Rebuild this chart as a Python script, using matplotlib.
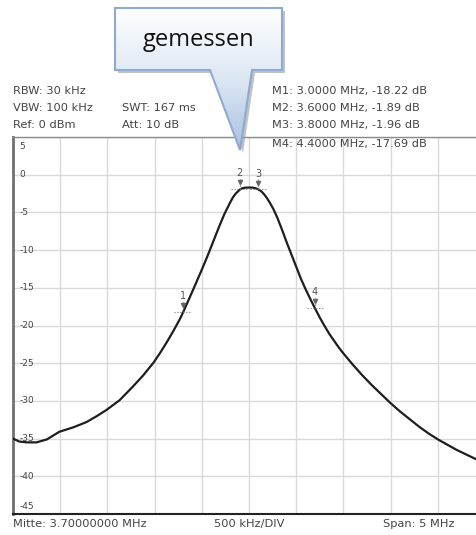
import matplotlib
matplotlib.use("Agg")
import matplotlib.pyplot as plt
import numpy as np
from matplotlib.patches import Polygon

# trace (MHz, dB)
freq = [1.20, 1.27, 1.35, 1.45, 1.56, 1.69, 1.84, 1.98, 2.09, 2.19, 2.33, 2.47,
        2.58, 2.69, 2.76, 2.83, 2.90, 2.97, 3.00, 3.05, 3.11, 3.20, 3.26, 3.32,
        3.38, 3.44, 3.50, 3.53, 3.56, 3.60, 3.63, 3.66, 3.70, 3.74, 3.77, 3.80,
        3.83, 3.86, 3.89, 3.92, 3.96, 4.00, 4.05, 4.10, 4.15, 4.20, 4.25, 4.30,
        4.35, 4.40, 4.45, 4.50, 4.55, 4.60, 4.65, 4.70, 4.80, 4.90, 5.00, 5.10,
        5.20, 5.30, 5.40, 5.50, 5.60, 5.70, 5.80, 5.90, 6.00, 6.10, 6.20]
level = [-35.0, -35.4, -35.5, -35.5, -35.1, -34.1, -33.5, -32.8, -32.0, -31.2,
         -29.9, -28.1, -26.6, -24.9, -23.6, -22.2, -20.7, -19.1, -18.3, -16.9,
         -15.2, -12.6, -10.8, -8.9, -7.0, -5.2, -3.7, -3.0, -2.5, -2.0,
         -1.8, -1.72, -1.7, -1.72, -1.8, -1.96, -2.2, -2.6, -3.1, -3.7,
         -4.6, -5.7, -7.3, -9.0, -10.6, -12.2, -13.8, -15.2, -16.5, -17.75,
         -18.95, -20.05, -21.1, -22.0, -22.9, -23.7, -25.2, -26.6, -27.9, -29.1,
         -30.3, -31.4, -32.4, -33.4, -34.3, -35.1, -35.8, -36.5, -37.1, -37.7,
         -38.3]

marker_freq = [3.0, 3.6, 3.8, 4.4]
marker_level = [-18.22, -1.89, -1.96, -17.69]
marker_names = ["1", "2", "3", "4"]

y_ticks = [5, 0, -5, -10, -15, -20, -25, -30, -35, -40, -45]
x_grid = [1.2 + 0.5 * i for i in range(11)]

header_left = ["RBW: 30 kHz", "VBW: 100 kHz", "Ref: 0 dBm"]
header_mid = ["SWT: 167 ms", "Att: 10 dB"]
header_right = ["M1: 3.0000 MHz, -18.22 dB", "M2: 3.6000 MHz, -1.89 dB",
                "M3: 3.8000 MHz, -1.96 dB", "M4: 4.4000 MHz, -17.69 dB"]

W, H = 477, 535
fig = plt.figure(figsize=(W / 100, H / 100), dpi=100, facecolor='white')


def fx(px):
    return px / W


def fy(py):
    return 1 - py / H


ax = fig.add_axes([fx(13), fy(514), 472 / W, 377 / H])
ax.set_xlim(1.2, 6.2)
ax.set_ylim(-45, 5)
ax.set_xticks([])
ax.set_yticks([])

for xv in x_grid:
    ax.axvline(xv, color='#d9d9d9', lw=1.0, zorder=0)
for yv in y_ticks:
    ax.axhline(yv, color='#d9d9d9', lw=1.0, zorder=0)

ax.spines['left'].set_color('#707070')
ax.spines['left'].set_linewidth(2.0)
ax.spines['bottom'].set_color('#222222')
ax.spines['bottom'].set_linewidth(1.5)
ax.spines['top'].set_color('#8a8a8a')
ax.spines['top'].set_linewidth(1.0)
ax.spines['right'].set_visible(False)

ax.plot(freq, level, color='#1e1e1e', lw=1.6, zorder=3,
        solid_joinstyle='round', solid_capstyle='round')

# y labels inside the plot
for yv in y_ticks:
    va = 'center'
    yy = yv
    if yv == 5:
        va, yy = 'top', 4.4
    elif yv == -45:
        va, yy = 'bottom', -44.6
    ax.text(1.27, yy, str(yv), fontsize=6.5, color='#444444', va=va, ha='left', zorder=2)

# markers
for mf, ml, mn in zip(marker_freq, marker_level, marker_names):
    ax.plot([mf - 0.09, mf + 0.09], [ml, ml], color='#777777', lw=0.8, ls=':', zorder=4)
    ax.plot([mf, mf], [ml, ml + 1.5], color='#666666', lw=0.8, ls=':', zorder=4)
    ax.plot([mf], [ml + 0.9], marker='v', ms=3, color='#666666', zorder=4)
    ax.text(mf, ml + 2.1, mn, fontsize=7, color='#555555', ha='center', va='center', zorder=4)

# header text
tc = '#444444'
fs = 8.2
for i, s in enumerate(header_left):
    fig.text(fx(13), fy(91 + 17 * i), s, fontsize=fs, color=tc, va='center', ha='left')
for i, s in enumerate(header_mid):
    fig.text(fx(122), fy(108 + 17 * i), s, fontsize=fs, color=tc, va='center', ha='left')
for i, s in enumerate(header_right):
    fig.text(fx(272), fy(91 + 17 * i + (2 if i == 3 else 0)), s, fontsize=fs, color=tc,
             va='center', ha='left', zorder=5)

fig.text(fx(13), fy(524), "Mitte: 3.70000000 MHz", fontsize=fs, color=tc, va='center', ha='left')
fig.text(fx(249), fy(524), "500 kHz/DIV", fontsize=fs, color=tc, va='center', ha='center')
fig.text(fx(455), fy(524), "Span: 5 MHz", fontsize=fs, color=tc, va='center', ha='right')

# callout "gemessen"
ov = fig.add_axes([0, 0, 1, 1], facecolor='none')
ov.set_xlim(0, W)
ov.set_ylim(H, 0)
ov.axis('off')
shape = [(115, 8), (282, 8), (282, 70), (252, 70), (240, 150), (210, 70), (115, 70)]
shadow = [(x + 3, y + 3) for x, y in shape]
ov.add_patch(Polygon(shadow, closed=True, fc='#9a9a9a', ec='none', alpha=0.6, zorder=1))
body = Polygon(shape, closed=True, fc='none', ec='#8eaad0', lw=1.5, zorder=3)
ov.add_patch(body)
grad = np.linspace(0, 1, 256).reshape(-1, 1)
cmap = matplotlib.colors.LinearSegmentedColormap.from_list('cg', ['#ffffff', '#dce7f4', '#a9c1e0'])
img = ov.imshow(grad, extent=[115, 282, 150, 8], cmap=cmap, aspect='auto', zorder=2)
img.set_clip_path(body)
ov.text(198, 40, "gemessen", fontsize=17, color='#111111', ha='center', va='center',
        family='Open Sans', zorder=4)

fig.savefig('out.png', dpi=100, facecolor='white')
